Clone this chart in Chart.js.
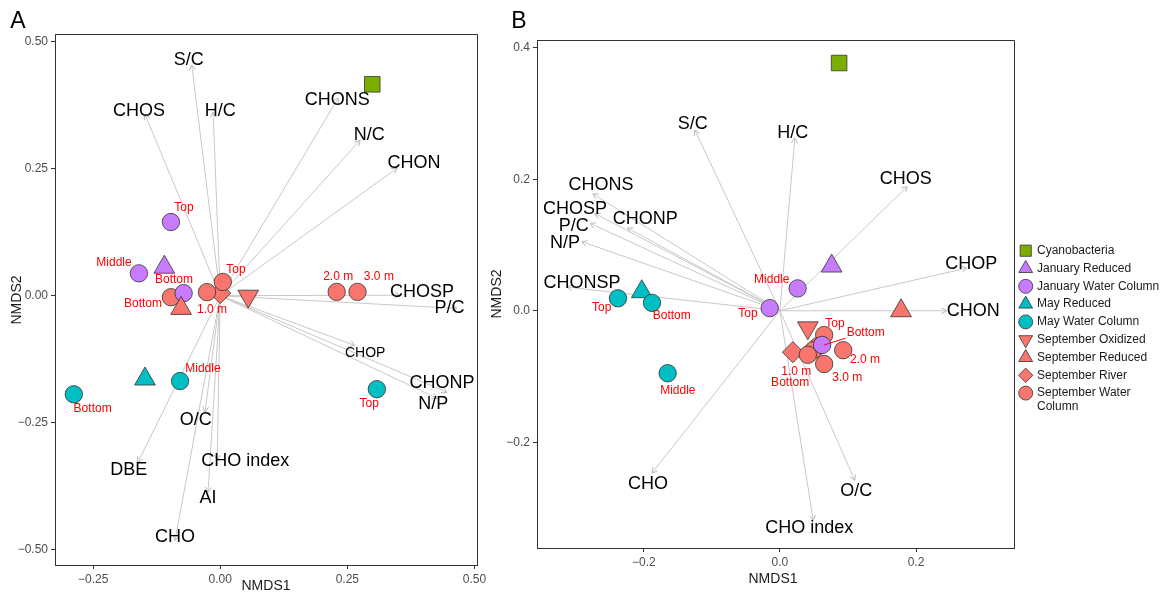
<!DOCTYPE html>
<html><head><meta charset="utf-8">
<script src="https://cdn.jsdelivr.net/npm/chart.js@4.4.1/dist/chart.umd.min.js"></script>
<style>
html,body{margin:0;padding:0;background:#fff;width:1163px;height:592px;overflow:hidden;}
#a{position:absolute;left:0;top:0;}
#b{position:absolute;left:490px;top:0;}
</style></head><body>
<canvas id="a" width="490" height="592"></canvas>
<canvas id="b" width="673" height="592"></canvas>
<script>
// ---------- data ----------
const groupNames = ['Cyanobacteria','January Reduced','January Water Column','May Reduced','May Water Column','September Oxidized','September Reduced','September River','September Water Column'];

// Panel A samples
const aSampleGroup = [0, 1, 2, 2, 2, 3, 4, 4, 4, 5, 6, 7, 8, 8, 8, 8, 8];
const aSampleX = [0.299, -0.110, -0.097, -0.160, -0.072, -0.148, -0.079, -0.288, 0.308, 0.055, -0.077, 0.000, -0.097, -0.026, 0.005, 0.229, 0.270];
const aSampleY = [0.416, 0.056, 0.145, 0.044, 0.005, -0.164, -0.168, -0.194, -0.184, -0.001, -0.025, 0.005, -0.003, 0.007, 0.027, 0.0075, 0.0075];
const aSampleLabel = ['', '', 'Top', 'Middle', 'Bottom', '', 'Middle', 'Bottom', 'Top', '', '', '', 'Bottom', '1.0 m', 'Top', '2.0 m', '3.0 m'];

// Panel A fitted vectors
const aVecName = ['S/C','CHOS','H/C','CHONS','N/C','CHON','CHOSP','P/C','CHOP','CHONP','N/P','O/C','DBE','CHO','AI','CHO index'];
const aVecX = [-0.056, -0.148, -0.014, 0.232, 0.275, 0.348, 0.353, 0.466, 0.265, 0.446, 0.427, -0.030, -0.162, -0.089, -0.024, -0.006];
const aVecY = [0.454, 0.357, 0.361, 0.389, 0.306, 0.251, 0.001, -0.025, -0.098, -0.190, -0.202, -0.229, -0.328, -0.482, -0.387, -0.324];

// Panel B samples
const bSampleGroup = [0, 1, 2, 2, 2, 3, 4, 4, 4, 5, 6, 7, 8, 8, 8, 8, 8, 8];
const bSampleX = [0.087, 0.076, 0.026, -0.015, 0.062, -0.203, -0.238, -0.188, -0.165, 0.041, 0.178, 0.019, 0.065, 0.056, 0.049, 0.041, 0.093, 0.065];
const bSampleY = [0.377, 0.068, 0.034, 0.004, -0.052, 0.029, 0.019, 0.012, -0.095, -0.026, 0.000, -0.063, -0.037, -0.054, -0.060, -0.067, -0.060, -0.081];
const bSampleLabel = ['', '', 'Middle', 'Top', 'Bottom', '', 'Top', 'Bottom', 'Middle', '', '', '', 'Top', '', 'Bottom', '1.0 m', '2.0 m', '3.0 m'];

// Panel B fitted vectors
const bVecName = ['S/C','H/C','CHOS','CHOP','CHON','CHONS','CHOSP','P/C','CHONP','N/P','CHONSP','CHO','O/C','CHO index'];
const bVecX = [-0.125, 0.022, 0.187, 0.275, 0.245, -0.275, -0.272, -0.279, -0.224, -0.291, -0.313, -0.188, 0.110, 0.049];
const bVecY = [0.275, 0.263, 0.189, 0.065, 0.000, 0.178, 0.148, 0.133, 0.126, 0.105, 0.036, -0.247, -0.258, -0.319];

// ---------- layout (text placement in data units) ----------
const aLabelX = [null, null, -0.0715, -0.209, -0.091, null, -0.034, -0.251, 0.293, null, null, null, -0.152, -0.016, 0.031, 0.232, 0.312];
const aLabelY = [null, null, 0.174, 0.064, 0.031, null, -0.143, -0.223, -0.212, null, null, null, -0.015, -0.027, 0.052, 0.038, 0.038];
const aVecLabelX = [-0.062, -0.160, 0.0, 0.230, 0.293, 0.381, 0.397, 0.451, 0.285, 0.436, 0.419, -0.048, -0.180, -0.089, -0.024, 0.049];
const aVecLabelY = [0.464, 0.363, 0.363, 0.385, 0.316, 0.261, 0.007, -0.025, -0.113, -0.172, -0.214, -0.245, -0.343, -0.475, -0.399, -0.325];
const aVecLabelSize = [18,18,18,18,18,18,18,18,14,18,18,18,18,18,18,18];

const bLabelX = [null, null, -0.012, -0.047, 0.126, null, -0.262, -0.159, -0.150, null, null, null, 0.081, null, 0.015, 0.024, 0.125, 0.099];
const bLabelY = [null, null, 0.048, -0.004, -0.034, null, 0.004, -0.008, -0.122, null, null, null, -0.019, null, -0.109, -0.092, -0.075, -0.102];
const bLeader = [false,false,false,false,true,false,false,false,false,false,false,false,false,false,false,false,false,false];
const bVecLabelX = [-0.128, 0.019, 0.185, 0.281, 0.284, -0.263, -0.301, -0.303, -0.198, -0.316, -0.291, -0.194, 0.112, 0.043];
const bVecLabelY = [0.284, 0.270, 0.200, 0.071, 0.000, 0.191, 0.155, 0.129, 0.139, 0.103, 0.042, -0.264, -0.275, -0.330];

// ---------- styles ----------
const groupColor = ['#7CAE00','#C77CFF','#C77CFF','#00BFC4','#00BFC4','#F8766D','#F8766D','#F8766D','#F8766D'];
const groupShape = ['rect','triangle','circle','triangle','circle','triangle','triangle','rectRot','circle'];
const groupRot = [0,0,0,0,0,180,0,0,0];
const groupRadius = [11,12,8.7,12,8.7,12,12,10.5,8.7];
const groupOrder = [9,8,2,7,6,5,1,4,3];
const FONT = "'Liberation Sans', Arial, sans-serif";

function fmt(v, d){ if (Math.abs(v) < 1e-9) v = 0; const s = v.toFixed(d); return s.replace('-', '\u2212'); }

function buildDatasets(sg, sx, sy, vx, vy){
  const ds = [];
  for (let g = 0; g < groupNames.length; g++){
    const pts = [];
    sg.forEach((gg,i)=>{ if (gg===g) pts.push({x:sx[i], y:sy[i]}); });
    if (!pts.length) continue;
    ds.push({label:groupNames[g], data:pts, pointStyle:groupShape[g], rotation:groupRot[g],
      pointRadius:groupRadius[g], pointHoverRadius:groupRadius[g],
      backgroundColor:groupColor[g], borderColor:'#333333', borderWidth:0.8, showLine:false, order:groupOrder[g]});
  }
  vx.forEach((x,i)=>{
    ds.push({label:'vec'+i, data:[{x:0,y:0},{x:x,y:vy[i]}], showLine:true, borderColor:'#c8c8c8',
      borderWidth:1, pointRadius:0, order:20});
  });
  return ds;
}

const panels = {
  A: {sg:aSampleGroup, sx:aSampleX, sy:aSampleY, sl:aSampleLabel, lx:aLabelX, ly:aLabelY, leader:null,
      vn:aVecName, vx:aVecX, vy:aVecY, vlx:aVecLabelX, vly:aVecLabelY, vls:aVecLabelSize,
      letter:'A', letterX:18, letterY:22, t1x:266, t1y:586, t2x:17, t2y:300, legend:false},
  B: {sg:bSampleGroup, sx:bSampleX, sy:bSampleY, sl:bSampleLabel, lx:bLabelX, ly:bLabelY, leader:bLeader,
      vn:bVecName, vx:bVecX, vy:bVecY, vlx:bVecLabelX, vly:bVecLabelY, vls:null,
      letter:'B', letterX:29, letterY:22, t1x:283, t1y:579, t2x:7, t2y:294, legend:true}
};

const annot = {
  id:'annot',
  beforeDatasetsDraw(chart){
    const P = panels[chart.canvas.dataset.panel];
    const ctx = chart.ctx, xs = chart.scales.x, ys = chart.scales.y;
    ctx.save();
    ctx.strokeStyle = '#b8b8b8'; ctx.lineWidth = 1;
    P.vx.forEach((vx,i)=>{
      const x0 = xs.getPixelForValue(0), y0 = ys.getPixelForValue(0);
      const x1 = xs.getPixelForValue(vx), y1 = ys.getPixelForValue(P.vy[i]);
      const ang = Math.atan2(y1-y0, x1-x0), L = 6, a = Math.PI/6;
      ctx.beginPath();
      ctx.moveTo(x1 - L*Math.cos(ang-a), y1 - L*Math.sin(ang-a));
      ctx.lineTo(x1, y1);
      ctx.lineTo(x1 - L*Math.cos(ang+a), y1 - L*Math.sin(ang+a));
      ctx.stroke();
    });
    ctx.restore();
  },
  afterDatasetsDraw(chart){
    const P = panels[chart.canvas.dataset.panel];
    const ctx = chart.ctx, xs = chart.scales.x, ys = chart.scales.y;
    ctx.save();
    ctx.textAlign = 'center'; ctx.textBaseline = 'middle';
    ctx.fillStyle = '#000';
    P.vn.forEach((n,i)=>{
      const sz = P.vls ? P.vls[i] : 18;
      ctx.font = sz + 'px ' + FONT;
      ctx.fillText(n, xs.getPixelForValue(P.vlx[i]), ys.getPixelForValue(P.vly[i]));
    });
    ctx.font = '12px ' + FONT;
    ctx.fillStyle = '#FF0000'; ctx.strokeStyle = '#FF0000'; ctx.lineWidth = 1;
    P.sl.forEach((t,i)=>{
      if (!t) return;
      const lx = xs.getPixelForValue(P.lx[i]), ly = ys.getPixelForValue(P.ly[i]);
      ctx.fillText(t, lx, ly);
      if (P.leader && P.leader[i]){
        const px = xs.getPixelForValue(P.sx[i]), py = ys.getPixelForValue(P.sy[i]);
        ctx.beginPath(); ctx.moveTo(lx-20, ly+5); ctx.lineTo(px+2, py); ctx.stroke();
      }
    });
    ctx.restore();
  },
  afterDraw(chart){
    const P = panels[chart.canvas.dataset.panel];
    const ctx = chart.ctx, ca = chart.chartArea;
    ctx.save();
    ctx.strokeStyle = '#333333'; ctx.lineWidth = 1;
    ctx.beginPath();
    ctx.moveTo(ca.left+0.5, ca.top+0.5); ctx.lineTo(ca.right+0.5, ca.top+0.5); ctx.lineTo(ca.right+0.5, ca.bottom);
    ctx.stroke();
    ctx.fillStyle = '#000'; ctx.textAlign = 'center'; ctx.textBaseline = 'middle';
    ctx.font = '23px ' + FONT;
    ctx.fillText(P.letter, P.letterX, P.letterY);
    ctx.font = '14px ' + FONT;
    ctx.fillStyle = '#1a1a1a';
    ctx.fillText('NMDS1', P.t1x, P.t1y);
    ctx.save(); ctx.translate(P.t2x, P.t2y); ctx.rotate(-Math.PI/2); ctx.fillText('NMDS2', 0, 0); ctx.restore();
    if (P.legend){
      const sx = 535.7, tx = 547, ys0 = 250.7, dy = 17.8;
      const lr = [5.6, 8, 7, 8, 7, 8, 8, 7.2, 7];
      ctx.font = '12px ' + FONT; ctx.textAlign = 'left';
      groupNames.forEach((g,i)=>{
        const y = ys0 + i*dy;
        ctx.fillStyle = groupColor[i]; ctx.strokeStyle = '#333333'; ctx.lineWidth = 0.8;
        let r = lr[i]; if (groupShape[i]==='rect') r = 5.6/Math.SQRT1_2;
        Chart.helpers.drawPoint(ctx, {pointStyle:groupShape[i], radius:r, rotation:groupRot[i], borderWidth:0.8}, sx, y);
        ctx.fillStyle = '#1a1a1a';
        if (g === 'September Water Column'){
          ctx.fillText('September Water', tx, y);
          ctx.fillText('Column', tx, y + 13.4);
        } else ctx.fillText(g, tx, y);
      });
    }
    ctx.restore();
  }
};

function makeChart(id, panel, xr, yr, step, dec, yw, xh, pad){
  const P = panels[panel];
  const el = document.getElementById(id);
  el.dataset.panel = panel;
  const tick = {font:{family:FONT, size:12}, color:'#4d4d4d', padding:3, includeBounds:false, stepSize:step,
    callback:(v)=>fmt(v,dec)};
  const grid = {display:true, drawOnChartArea:false, drawTicks:true, tickLength:4, color:'#333333', lineWidth:1};
  return new Chart(el, {
    type:'scatter',
    data:{datasets:buildDatasets(P.sg, P.sx, P.sy, P.vx, P.vy)},
    options:{
      responsive:false, animation:false, devicePixelRatio:1,
      layout:{padding:pad},
      plugins:{legend:{display:false}, tooltip:{enabled:false}},
      events:[],
      scales:{
        x:{type:'linear', min:xr[0], max:xr[1], ticks:{...tick}, grid:{...grid}, border:{display:true, color:'#333333', width:1},
           afterFit:(s)=>{s.height = xh;}},
        y:{type:'linear', min:yr[0], max:yr[1], ticks:{...tick}, grid:{...grid}, border:{display:true, color:'#333333', width:1},
           afterFit:(s)=>{s.width = yw;}}
      }
    },
    plugins:[annot]
  });
}

makeChart('a', 'A', [-0.325, 0.505], [-0.530, 0.515], 0.25, 2, 55, 27, {top:34, right:13, left:0, bottom:0});
makeChart('b', 'B', [-0.357, 0.344], [-0.361, 0.412], 0.2, 1, 47, 44, {top:40, right:149, left:0, bottom:0});
</script>
</body></html>
